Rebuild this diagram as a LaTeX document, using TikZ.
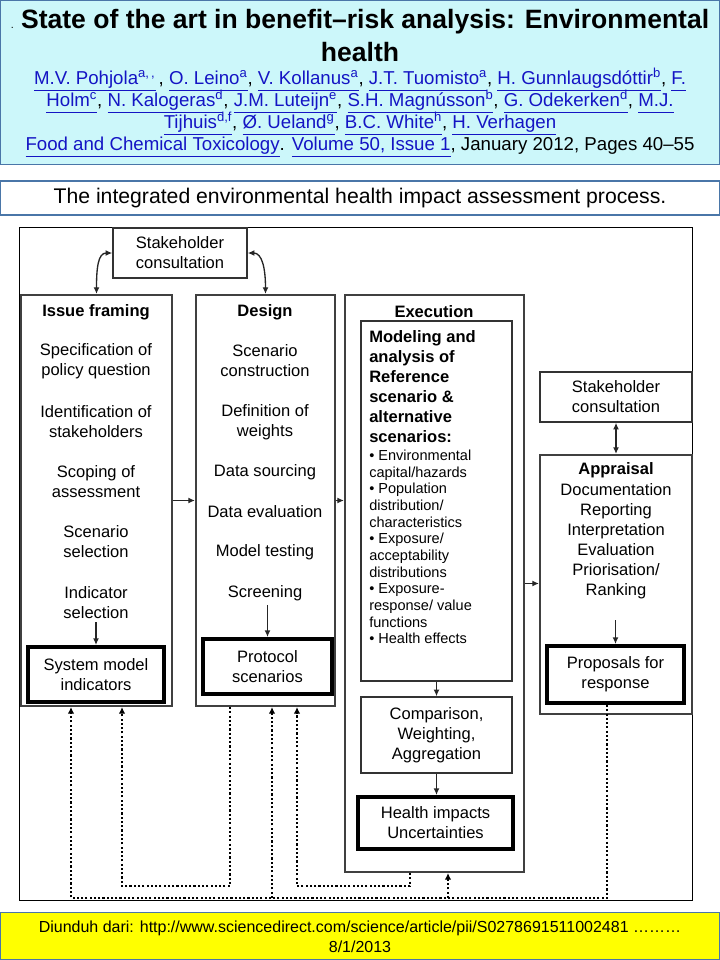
\documentclass[tikz,border=0pt]{standalone}
\usepackage{fontspec}
\setmainfont{Liberation Sans}
\usepackage{tikz}
\usetikzlibrary{arrows.meta,positioning}
\definecolor{hdfill}{HTML}{CCF7FA}
\definecolor{hdline}{HTML}{4A76A8}
\definecolor{linkblue}{HTML}{1414C4}
\definecolor{footfill}{HTML}{FFFF00}
\newcommand{\lnk}[1]{\textcolor{linkblue}{\underline{\vphantom{gjpy}#1}}}
\newcommand{\dfont}{\fontsize{12.4}{15}\selectfont}
\newcommand{\blfont}{\fontsize{10.9}{12.5}\selectfont}
\tikzset{
  wh/.style 2 args={minimum width=#1*0.75pt,minimum height=#2*0.75pt},
  hdbox/.style={draw=hdline,line width=0.9pt,fill=hdfill,inner sep=0pt},
  capbox/.style={draw=hdline,line width=0.9pt,fill=white,inner sep=0pt,
    font=\fontsize{15.9}{18}\selectfont},
  footbox/.style={draw=hdline,line width=0.9pt,fill=footfill,inner sep=0pt,
    align=center,font=\fontsize{12}{15}\selectfont},
  hdtitle/.style={inner sep=0pt,font=\bfseries\fontsize{19.9}{23}\selectfont},
  hdauth/.style={inner sep=0pt,font=\fontsize{14}{16}\selectfont},
  frame/.style={draw,line width=0.75pt,inner sep=0pt},
  colbox/.style={draw=black!75,line width=1.6pt,inner sep=0pt},
  thinbox/.style={draw=black!80,line width=1.1pt,fill=white,inner sep=0pt,
    align=center,font=\dfont},
  thickbox/.style={draw=black,line width=3pt,fill=white,inner sep=0pt,
    align=center,font=\dfont},
  lbl/.style={inner sep=0pt,align=center,font=\dfont},
  lblhead/.style={inner sep=0pt,align=center,font=\bfseries\dfont},
  arrow/.style={-{Latex[length=5pt,width=4.5pt]},line width=1pt,draw=black!85},
  twoway/.style={{Latex[length=5pt,width=4.5pt]}-{Latex[length=5pt,width=4.5pt]},
    line width=1pt,draw=black!85},
  feedback/.style={-{Latex[length=5pt,width=5pt]},line width=2.2pt,
    dash pattern=on 1.6pt off 1.6pt}
}

\begin{document}
\begin{tikzpicture}[x=0.75pt,y=-0.75pt]
\useasboundingbox (0,0) rectangle (720,960);

% article header
\node[hdbox,wh={718.8}{164}] (hdr) at (360,82.6) {};
\node[hdtitle] (head1) at (360,22) {{\fontsize{8}{8}\selectfont\mdseries .}\ State of the art in benefit–risk analysis: Environmental};
\node[hdtitle] (head2) at (360,52) {health};
\node[hdauth] (byline1) at (360,80) {\lnk{M.V. Pohjola\textsuperscript{a,\,,}}\,, \lnk{O. Leino\textsuperscript{a}}, \lnk{V. Kollanus\textsuperscript{a}}, \lnk{J.T. Tuomisto\textsuperscript{a}}, \lnk{H. Gunnlaugsdóttir\textsuperscript{b}}, \lnk{F.}};
\node[hdauth] (byline2) at (360,102) {\lnk{Holm\textsuperscript{c}}, \lnk{N. Kalogeras\textsuperscript{d}}, \lnk{J.M. Luteijn\textsuperscript{e}}, \lnk{S.H. Magnússon\textsuperscript{b}}, \lnk{G. Odekerken\textsuperscript{d}}, \lnk{M.J.}};
\node[hdauth] (byline3) at (360,124) {\lnk{Tijhuis\textsuperscript{d,f}}, \lnk{Ø. Ueland\textsuperscript{g}}, \lnk{B.C. White\textsuperscript{h}}, \lnk{H. Verhagen}};
\node[hdauth] (journal) at (360,147) {\lnk{Food and Chemical Toxicology}. \lnk{Volume 50, Issue 1}, January 2012, Pages 40–55};

\node[capbox,wh={718.8}{34}] (caption) at (360,198) {The integrated environmental health impact assessment process.};

% diagram
\node[frame,wh={673}{673}] (frame) at (355.5,563.5) {};
\node[thinbox,wh={134}{50}] (consult) at (180,253) {Stakeholder\\consultation};

\node[colbox,wh={151}{411}] (issue) at (96.5,500.5) {};
\node[colbox,wh={139}{411}] (design) at (265.5,500.5) {};
\node[colbox,wh={179}{577}] (exec) at (434.5,583.5) {};
\node[thinbox,wh={151}{360}] (model) at (436.5,501) {};
\node[thinbox,wh={151}{76}] (compare) at (436.5,735) {Comparison,\\Weighting,\\Aggregation};
\node[thickbox,wh={155}{52}] (health) at (435.5,823) {Health impacts\\Uncertainties};
\node[thinbox,wh={152}{50}] (consult2) at (616,397) {Stakeholder\\consultation};
\node[colbox,wh={152}{259}] (appraisal) at (616,584.5) {};
\node[thickbox,wh={137}{57}] (proposals) at (615.5,674.5) {Proposals for\\response};
\node[thickbox,wh={136}{55}] (sysind) at (96,674.5) {System model\\indicators};
\node[thickbox,wh={129}{55}] (protocol) at (267.5,666.5) {Protocol\\scenarios};

% issue framing
\node[lblhead] (issuet) at (96,312) {Issue framing};
\node[lbl] (spec) at (96,361) {Specification of\\policy question};
\node[lbl] (ident) at (96,422) {Identification of\\stakeholders};
\node[lbl] (scope) at (96,482) {Scoping of\\assessment};
\node[lbl] (scensel) at (96,542) {Scenario\\selection};
\node[lbl] (indsel) at (96,603) {Indicator\\selection};

% design
\node[lblhead] (designt) at (265,312) {Design};
\node[lbl] (constr) at (265,361) {Scenario\\construction};
\node[lbl] (weights) at (265,422) {Definition of\\weights};
\node[lbl] (source) at (265,472) {Data sourcing};
\node[lbl] (evalu) at (265,512) {Data evaluation};
\node[lbl] (testing) at (265,552) {Model testing};
\node[lbl] (screen) at (265,593) {Screening};

% execution
\node[lblhead] (exect) at (434,312) {Execution};
\node[lblhead,align=left,anchor=west] (modhead) at (369,387) {Modeling and\\analysis of\\Reference\\scenario \&\\alternative\\scenarios:};
\node[inner sep=0pt,align=left,anchor=west,font=\blfont] (modlist) at (369,547) {• Environmental\\capital/hazards\\• Population\\distribution/\\characteristics\\• Exposure/\\acceptability\\distributions\\• Exposure-\\response/ value\\functions\\• Health effects};

% appraisal
\node[lblhead] (apphead) at (616,470) {Appraisal};
\node[lbl] (applist) at (616,541) {Documentation\\Reporting\\Interpretation\\Evaluation\\Priorisation/\\Ranking};

% solid connectors
\draw[twoway] (consult.west) .. controls (98,253) and (96.5,268) .. (issue.north);
\draw[twoway] (consult.east) .. controls (262,253) and (265.5,268) .. (design.north);
\draw[twoway] (consult2.south) -- (appraisal.north);
\draw[arrow] (issue.east) -- (design.west);
\draw[arrow] (design.east) -- (design.east -| exec.west);
\draw[arrow] (exec.east) -- (exec.east -| appraisal.west);
\draw[arrow,shorten <=2pt] (indsel.south) -- (sysind.north);
\draw[arrow,shorten <=3pt] (protocol.north |- screen.south) -- (protocol.north);
\draw[arrow,shorten <=16pt] (proposals.north |- applist.south) -- (proposals.north);
\draw[arrow] (model.south) -- (compare.north);
\draw[arrow] (compare.south) -- (compare.south |- health.north);

% feedback loops
\coordinate (fbA) at (230,886);
\coordinate (fbAend) at (122,886);
\coordinate (fbB) at (410,886);
\coordinate (fbBend) at (297,886);
\coordinate (fbC) at (607,898);
\coordinate (fbCend) at (71,898);
\coordinate (fbC1) at (272,898);
\coordinate (fbC2) at (448,898);
\draw[feedback] (fbA |- design.south) -- (fbA) -- (fbAend) -- (fbAend |- issue.south);
\draw[feedback] (fbB |- exec.south) -- (fbB) -- (fbBend) -- (fbBend |- design.south);
\draw[feedback] (fbC |- proposals.south) -- (fbC) -- (fbCend) -- (fbCend |- issue.south);
\draw[feedback] (fbC1) -- (fbC1 |- design.south);
\draw[feedback] (fbC2) -- (fbC2 |- exec.south);

% source line
\node[footbox,wh={718.8}{47}] (footer) at (360,936.3) {Diunduh dari: http://www.sciencedirect.com/science/article/pii/S0278691511002481 ………\\8/1/2013};
\end{tikzpicture}
\end{document}
